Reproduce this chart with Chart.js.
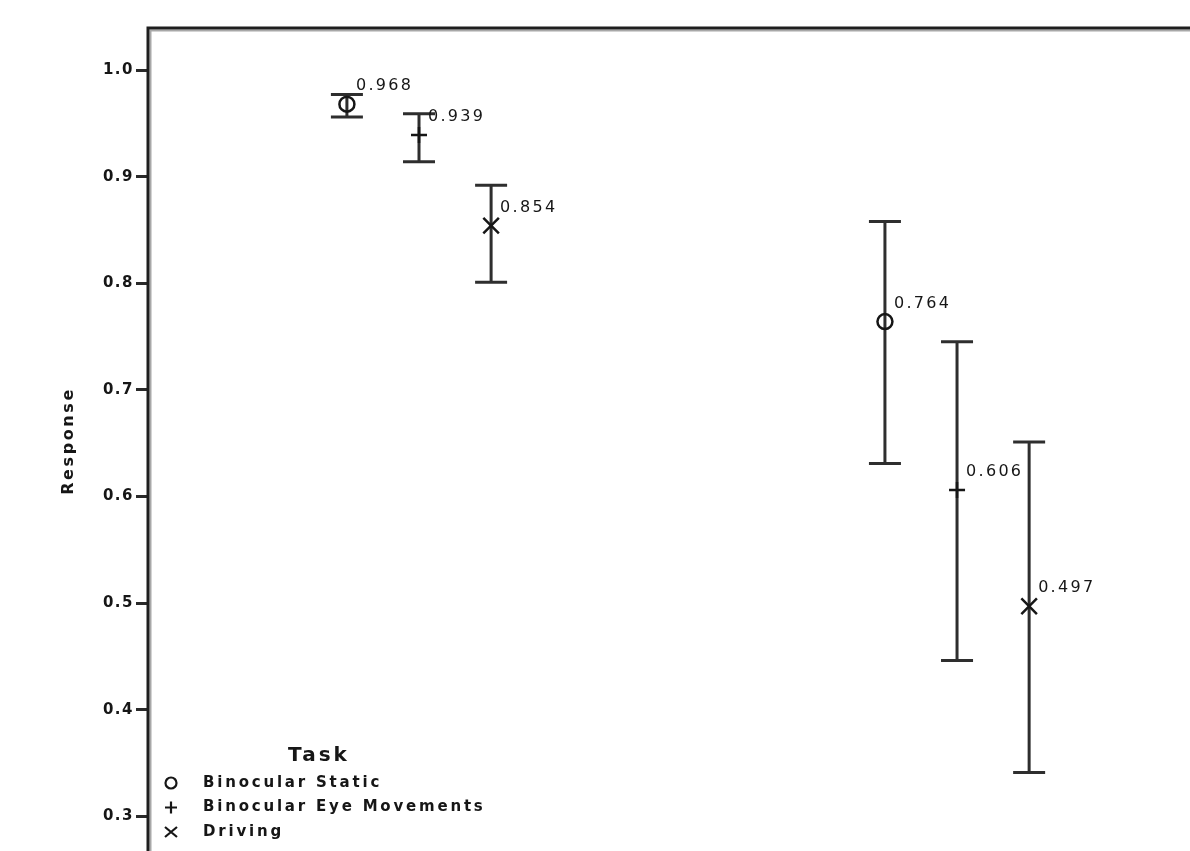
<!DOCTYPE html>
<html>
<head>
<meta charset="utf-8">
<title>Response by task</title>
<script src="https://cdn.jsdelivr.net/npm/chart.js@4.4.1/dist/chart.umd.min.js"></script>
<style>
  html, body { margin: 0; padding: 0; background: #fff; }
  canvas { display: block; }
</style>
</head>
<body>
<canvas id="chart" width="1190" height="851"></canvas>
<script>
  "use strict";

  // x axis groups are cut off in the source picture, so their names are not shown
  const conditions = ["Condition 1", "Condition 2"];
  const tasks = ["Binocular Static", "Binocular Eye Movements", "Driving"];

  const staticMean = [0.968, 0.764];
  const staticLow = [0.956, 0.631];
  const staticHigh = [0.977, 0.858];

  const eyeMean = [0.939, 0.606];
  const eyeLow = [0.914, 0.446];
  const eyeHigh = [0.959, 0.745];

  const drivingMean = [0.854, 0.497];
  const drivingLow = [0.801, 0.341];
  const drivingHigh = [0.892, 0.651];

  const yTicks = [0.3, 0.4, 0.5, 0.6, 0.7, 0.8, 0.9, 1.0];

  const INK = "#161616";
  const FONT = "'DejaVu Sans', Verdana, sans-serif";
  const DODGE = 0.134; // spacing of the three tasks inside one group
  const CAP = 16; // half width of error bar caps

  const means = [staticMean, eyeMean, drivingMean];
  const lows = [staticLow, eyeLow, drivingLow];
  const highs = [staticHigh, eyeHigh, drivingHigh];
  const markers = [
    { style: "circle", radius: 7.5 },
    { style: "cross", radius: 8 },
    { style: "crossRot", radius: 11 },
  ];

  const datasets = tasks.map((task, i) => ({
    label: task,
    data: conditions.map((c, j) => ({
      x: j + 1 + (i - 1) * DODGE,
      y: means[i][j],
      low: lows[i][j],
      high: highs[i][j],
    })),
    pointStyle: markers[i].style,
    pointRadius: markers[i].radius,
    pointHoverRadius: markers[i].radius,
    pointBorderWidth: 2.5,
    borderColor: INK,
    backgroundColor: "rgba(0,0,0,0)",
    showLine: false,
  }));

  /**
   * Error bars from the low / high values of every point
   */
  const errorBars = {
    id: "errorBars",
    beforeDatasetsDraw(chart) {
      const { ctx, scales } = chart;
      ctx.save();
      ctx.strokeStyle = "#2e2e2e";
      ctx.lineWidth = 3;
      chart.data.datasets.forEach((ds) => {
        ds.data.forEach((p) => {
          const px = scales.x.getPixelForValue(p.x);
          const top = scales.y.getPixelForValue(p.high);
          const bot = scales.y.getPixelForValue(p.low);
          ctx.beginPath();
          ctx.moveTo(px, top);
          ctx.lineTo(px, bot);
          ctx.moveTo(px - CAP, top);
          ctx.lineTo(px + CAP, top);
          ctx.moveTo(px - CAP, bot);
          ctx.lineTo(px + CAP, bot);
          ctx.stroke();
        });
      });
      ctx.restore();
    },
    afterDatasetsDraw(chart) {
      // value labels up and to the right of each mean
      const { ctx } = chart;
      ctx.save();
      ctx.font = "16px " + FONT;
      ctx.letterSpacing = "2.3px";
      ctx.fillStyle = INK;
      ctx.textAlign = "left";
      ctx.textBaseline = "middle";
      chart.data.datasets.forEach((ds, i) => {
        chart.getDatasetMeta(i).data.forEach((pt, j) => {
          ctx.fillText(ds.data[j].y.toFixed(3), pt.x + 9, pt.y - 18);
        });
      });
      ctx.restore();
    },
  };

  /**
   * Frame, axis title and the "Task" legend
   */
  const decorations = {
    id: "decorations",
    beforeDraw(chart) {
      chart.ctx.letterSpacing = "1.5px";
    },
    afterDraw(chart) {
      const { ctx, chartArea: a } = chart;
      ctx.save();

      // top and left frame lines with their grey shadow
      ctx.lineCap = "butt";
      ctx.strokeStyle = "#a8a8a8";
      ctx.lineWidth = 2;
      ctx.beginPath();
      ctx.moveTo(a.left + 2, a.top + 1.5);
      ctx.lineTo(a.right, a.top + 1.5);
      ctx.moveTo(a.left + 2.5, a.top + 1);
      ctx.lineTo(a.left + 2.5, a.bottom);
      ctx.stroke();
      ctx.strokeStyle = "#1e1e1e";
      ctx.lineWidth = 3;
      ctx.beginPath();
      ctx.moveTo(a.left - 1.5, a.top - 1);
      ctx.lineTo(a.right, a.top - 1);
      ctx.moveTo(a.left, a.top - 2.5);
      ctx.lineTo(a.left, a.bottom);
      ctx.stroke();

      // y axis title
      ctx.fillStyle = INK;
      ctx.font = "bold 16px " + FONT;
      ctx.letterSpacing = "2.6px";
      ctx.textAlign = "center";
      ctx.textBaseline = "middle";
      ctx.save();
      ctx.translate(69, (a.top + a.bottom) / 2 + 1);
      ctx.rotate(-Math.PI / 2);
      ctx.fillText("Response", 0, 0);
      ctx.restore();

      // legend
      const lx = a.left + 23;
      const ly = a.bottom - 95;
      ctx.font = "bold 20px " + FONT;
      ctx.letterSpacing = "3px";
      ctx.textAlign = "center";
      ctx.fillText("Task", lx + 148, ly);

      ctx.font = "bold 15px " + FONT;
      ctx.letterSpacing = "2.8px";
      ctx.textAlign = "left";
      ctx.strokeStyle = INK;
      ctx.lineWidth = 2.2;
      chart.data.datasets.forEach((ds, i) => {
        const cy = ly + 27 + i * 24.5;
        const r = 6;
        ctx.beginPath();
        if (ds.pointStyle === "circle") {
          ctx.arc(lx, cy, r - 0.5, 0, Math.PI * 2);
        } else if (ds.pointStyle === "cross") {
          ctx.moveTo(lx - r, cy);
          ctx.lineTo(lx + r, cy);
          ctx.moveTo(lx, cy - r);
          ctx.lineTo(lx, cy + r);
        } else {
          ctx.moveTo(lx - r, cy - r + 1);
          ctx.lineTo(lx + r, cy + r - 1);
          ctx.moveTo(lx - r, cy + r - 1);
          ctx.lineTo(lx + r, cy - r + 1);
        }
        ctx.stroke();
        ctx.fillText(ds.label, lx + 32, cy);
      });

      ctx.restore();
    },
  };

  new Chart(document.getElementById("chart"), {
    type: "scatter",
    data: { datasets: datasets },
    plugins: [errorBars, decorations],
    options: {
      responsive: false,
      animation: false,
      devicePixelRatio: 1,
      layout: {
        autoPadding: false,
        padding: { top: 29, right: 0, bottom: 0, left: 0 },
      },
      plugins: {
        legend: { display: false },
        tooltip: { enabled: false },
      },
      scales: {
        x: {
          type: "linear",
          display: false,
          min: 0.4963,
          max: 2.433,
        },
        y: {
          type: "linear",
          min: 0.2674,
          max: 1.0385,
          afterBuildTicks: (scale) => {
            scale.ticks = yTicks.map((v) => ({ value: v }));
          },
          afterFit: (scale) => {
            scale.width = 148;
            scale.paddingTop = 0;
            scale.paddingBottom = 0;
          },
          border: { display: false },
          grid: {
            drawOnChartArea: false,
            drawTicks: true,
            tickLength: 12,
            tickWidth: 3,
            tickColor: "#2a2a2a",
          },
          ticks: {
            padding: 2,
            color: INK,
            font: { family: FONT, size: 15, weight: "bold" },
            callback: (value) => value.toFixed(1),
          },
        },
      },
    },
  });
</script>
</body>
</html>
